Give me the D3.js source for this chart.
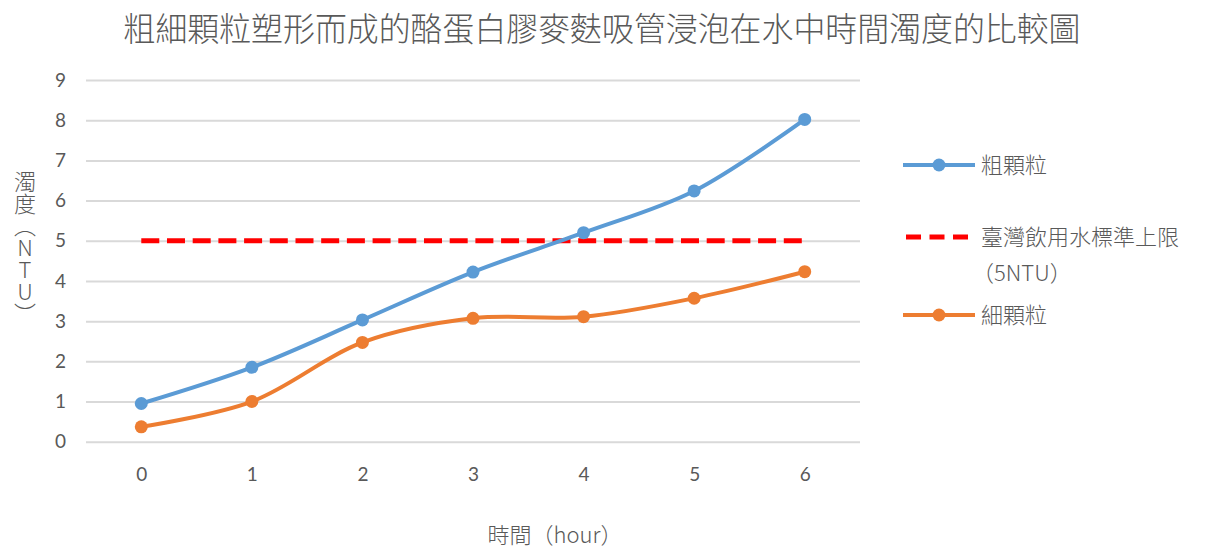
<!DOCTYPE html>
<html>
<head>
<meta charset="utf-8">
<script src="https://cdn.jsdelivr.net/npm/d3@7"></script>
<style>
  html, body { margin: 0; padding: 0; background: #ffffff; }
  svg { display: block; }
  text { font-family: "Noto Sans CJK TC Light", "Noto Sans CJK TC", "Noto Sans", sans-serif; fill: #595959; }
  .num { font-family: Lato, "Open Sans", sans-serif; }
</style>
</head>
<body>
<svg id="chart" width="1215" height="550"></svg>
<script>
// Turbidity (NTU) of casein–bran straws soaked in water, by hour
const hours = ["0", "1", "2", "3", "4", "5", "6"];
const coarse = [0.95, 1.85, 3.03, 4.22, 5.2, 6.24, 8.02];
const fine = [0.37, 1.0, 2.47, 3.07, 3.11, 3.57, 4.23];
const limit = [5, 5, 5, 5, 5, 5, 5];
const yTicks = [0, 1, 2, 3, 4, 5, 6, 7, 8, 9];

const titleText = "粗細顆粒塑形而成的酪蛋白膠麥麩吸管浸泡在水中時間濁度的比較圖";
const xTitle = "時間（hour）";
const yTitle = "濁度（NTU）";
const legendItems = [
  { key: "coarse", label: ["粗顆粒"], color: "#5b9bd5", dashed: false },
  { key: "limit", label: ["臺灣飲用水標準上限", "（5NTU）"], color: "#ff0000", dashed: true },
  { key: "fine", label: ["細顆粒"], color: "#ed7d31", dashed: false }
];

const svg = d3.select("#chart");
const plot = { left: 86, right: 860, top: 80, bottom: 441.7 };

const x = d3.scalePoint().domain(hours).range([plot.left, plot.right]).padding(0.5);
const y = d3.scaleLinear().domain([0, 9]).range([plot.bottom, plot.top]);

// title
svg.append("text")
  .attr("x", 602).attr("y", 41)
  .attr("text-anchor", "middle")
  .attr("font-size", 33)
  .attr("font-weight", 300)
  .attr("textLength", 957)
  .attr("lengthAdjust", "spacingAndGlyphs")
  .text(titleText);

// horizontal gridlines and y labels
const yAxis = d3.axisLeft(y).tickValues(yTicks).tickSize(-(plot.right - plot.left)).tickPadding(20);
const yg = svg.append("g").attr("transform", `translate(${plot.left},0)`).call(yAxis);
yg.select(".domain").remove();
yg.selectAll(".tick line").attr("stroke", "#d9d9d9").attr("stroke-width", 2);
yg.selectAll(".tick text").attr("class", "num").attr("font-size", 19).attr("fill", "#595959");

// x labels
const xAxis = d3.axisBottom(x).tickSize(0).tickPadding(26);
const xg = svg.append("g").attr("transform", `translate(0,${plot.bottom})`).call(xAxis);
xg.select(".domain").remove();
xg.selectAll(".tick text").attr("class", "num").attr("font-size", 19).attr("fill", "#595959");

// axis titles
svg.append("text")
  .attr("x", 555).attr("y", 543)
  .attr("text-anchor", "middle")
  .attr("font-size", 22)
  .attr("font-weight", 300)
  .text(xTitle);

svg.append("text")
  .attr("x", 25).attr("y", 171)
  .attr("font-size", 22)
  .attr("font-weight", 300)
  .style("writing-mode", "vertical-rl")
  .style("text-orientation", "upright")
  .text(yTitle);

// series
const line = d3.line()
  .x((d, i) => x(hours[i]))
  .y(d => y(d))
  .curve(d3.curveCatmullRom);

svg.append("path")
  .datum(limit)
  .attr("fill", "none")
  .attr("stroke", "#ff0000")
  .attr("stroke-width", 5)
  .attr("stroke-dasharray", "18,7.7")
  .attr("d", d3.line().x((d, i) => x(hours[i])).y(d => y(d)));

function drawSeries(values, color) {
  svg.append("path")
    .datum(values)
    .attr("fill", "none")
    .attr("stroke", color)
    .attr("stroke-width", 4)
    .attr("stroke-linejoin", "round")
    .attr("d", line);
  svg.append("g").selectAll("circle")
    .data(values)
    .join("circle")
    .attr("cx", (d, i) => x(hours[i]))
    .attr("cy", d => y(d))
    .attr("r", 6.5)
    .attr("fill", color);
}
drawSeries(coarse, "#5b9bd5");
drawSeries(fine, "#ed7d31");

// legend
const legendY = [165, 237, 315];
legendItems.forEach((item, i) => {
  const g = svg.append("g").attr("transform", `translate(0,${legendY[i]})`);
  if (item.dashed) {
    g.append("line")
      .attr("x1", 906).attr("x2", 972).attr("y1", 0).attr("y2", 0)
      .attr("stroke", item.color).attr("stroke-width", 5)
      .attr("stroke-dasharray", "15,8.5");
  } else {
    g.append("line")
      .attr("x1", 903).attr("x2", 975).attr("y1", 0).attr("y2", 0)
      .attr("stroke", item.color).attr("stroke-width", 4);
    g.append("circle").attr("cx", 939).attr("cy", 0).attr("r", 6.5).attr("fill", item.color);
  }
  item.label.forEach((t, j) => {
    g.append("text")
      .attr("x", j === 0 ? 981 : 972)
      .attr("y", 8 + j * 36)
      .attr("font-size", 22)
      .attr("font-weight", 300)
      .text(t);
  });
});
</script>
</body>
</html>
